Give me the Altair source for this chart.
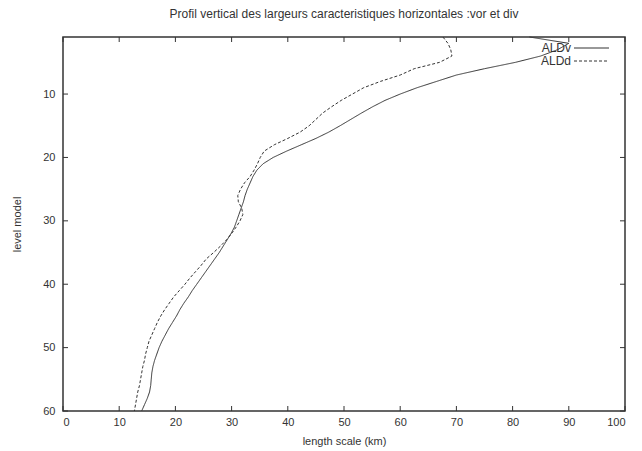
import altair as alt
import pandas as pd

# Model levels and the two horizontal length-scale profiles (km)
levels = list(range(1, 61))
ald_v = [83.0, 90.0, 88.0, 85.0, 80.5, 75.0, 70.0, 66.5, 63.0, 60.0,
         57.3, 55.1, 53.1, 51.2, 49.3, 47.3, 45.0, 42.4, 39.8, 37.4,
         35.6, 34.5, 33.8, 33.3, 32.8, 32.4, 32.1, 31.7, 31.3, 30.9,
         30.5, 29.9, 29.2, 28.5, 27.8, 27.0, 26.2, 25.4, 24.6, 23.8,
         23.0, 22.3, 21.5, 20.8, 20.2, 19.5, 18.8, 18.2, 17.6, 17.1,
         16.7, 16.3, 16.0, 15.8, 15.7, 15.6, 15.4, 15.0, 14.5, 14.0]
ald_d = [67.6, 68.5, 69.0, 69.2, 67.0, 62.5, 60.0, 56.5, 53.5, 51.5,
         49.5, 47.8, 46.2, 45.0, 43.8, 42.2, 40.0, 37.6, 35.8, 35.1,
         34.6, 34.0, 33.3, 32.3, 31.6, 31.1, 31.2, 31.8, 32.0, 31.5,
         30.8, 30.0, 29.1, 28.0, 26.8, 25.5, 24.6, 23.6, 22.6, 21.7,
         20.7, 19.7, 18.9, 18.1, 17.4, 16.8, 16.3, 15.8, 15.3, 15.0,
         14.7, 14.5, 14.2, 14.0, 13.8, 13.6, 13.3, 13.1, 12.9, 12.7]
series_names = ["ALDv", "ALDd"]
dashes = [[1, 0], [3, 2]]

x_ticks = list(range(0, 101, 10))
y_ticks = list(range(10, 61, 10))

W, H = 562, 374
FONT = "Liberation Sans"
INK = "#333333"
TICK_LEN = 5

df = pd.concat([
    pd.DataFrame({"level": levels, "km": ald_v, "series": series_names[0]}),
    pd.DataFrame({"level": levels, "km": ald_d, "series": series_names[1]}),
])

x_scale = alt.Scale(domain=[0, 100], nice=False)
y_scale = alt.Scale(domain=[1, 60], reverse=True, nice=False, zero=False)

axis_style = dict(ticks=False, grid=False, domain=False,
                  labelFont=FONT, titleFont=FONT, labelFontSize=11, titleFontSize=11,
                  labelColor=INK, titleColor=INK, titleFontWeight="normal")

lines = alt.Chart(df).mark_line(strokeWidth=1, color=INK).encode(
    x=alt.X("km:Q", scale=x_scale,
            axis=alt.Axis(values=x_ticks, title="length scale (km)",
                          labelPadding=5, titlePadding=8, **axis_style)),
    y=alt.Y("level:Q", scale=y_scale,
            axis=alt.Axis(values=y_ticks, title="level model",
                          labelPadding=8, titlePadding=20, **axis_style)),
    strokeDash=alt.StrokeDash("series:N", scale=alt.Scale(domain=series_names, range=dashes),
                              legend=None),
    order=alt.Order("level:Q"),
)

# Inward ticks on all four sides of the frame
xt = pd.DataFrame({"v": x_ticks})
yt = pd.DataFrame({"v": y_ticks})
tick_style = dict(color=INK, strokeWidth=1)
bottom_ticks = alt.Chart(xt).mark_rule(**tick_style).encode(
    x=alt.X("v:Q", scale=x_scale), y=alt.value(H), y2=alt.value(H - TICK_LEN))
top_ticks = alt.Chart(xt).mark_rule(**tick_style).encode(
    x=alt.X("v:Q", scale=x_scale), y=alt.value(0), y2=alt.value(TICK_LEN))
left_ticks = alt.Chart(yt).mark_rule(**tick_style).encode(
    y=alt.Y("v:Q", scale=y_scale), x=alt.value(0), x2=alt.value(TICK_LEN))
right_ticks = alt.Chart(yt).mark_rule(**tick_style).encode(
    y=alt.Y("v:Q", scale=y_scale), x=alt.value(W), x2=alt.value(W - TICK_LEN))

# Key in the top-right corner: label then line sample
key_layers = []
for i, name in enumerate(series_names):
    ky = 11 + 13 * i
    kd = pd.DataFrame({"series": [name]})
    key_layers.append(alt.Chart(kd).mark_text(
        align="right", baseline="middle", font=FONT, fontSize=12, color=INK
    ).encode(text="series:N", x=alt.value(508), y=alt.value(ky)))
    key_layers.append(alt.Chart(kd).mark_rule(
        color=INK, strokeWidth=1, strokeDash=dashes[i]
    ).encode(x=alt.value(511), x2=alt.value(546), y=alt.value(ky)))

chart = alt.layer(
    lines, bottom_ticks, top_ticks, left_ticks, right_ticks, *key_layers
).properties(
    width=W, height=H,
    background="white",
    title=alt.Title("Profil vertical des largeurs caracteristiques horizontales :vor et div",
                    font=FONT, fontSize=12, fontWeight="normal", color=INK,
                    anchor="middle", offset=14),
    autosize=alt.AutoSizeParams(type="none"),
    padding={"left": 63, "top": 37, "right": 17, "bottom": 40},
).configure_view(
    stroke=INK, strokeWidth=1.5
)

chart.save("out.html", embed_options={"renderer": "svg", "actions": False})
